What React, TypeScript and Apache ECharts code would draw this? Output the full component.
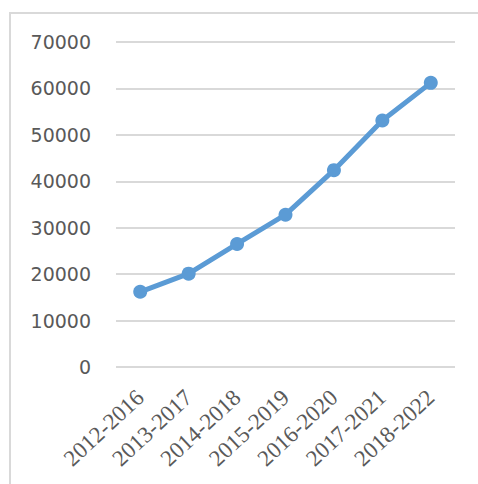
import React, { useEffect, useRef } from "react";
import * as echarts from "echarts";

const categories = ["2012-2016", "2013-2017", "2014-2018", "2015-2019", "2016-2020", "2017-2021", "2018-2022"];
const values = [16200, 20100, 26500, 32800, 42400, 53100, 61200];
const yMin = 0;
const yMax = 70000;
const yInterval = 10000;

export default function App() {
  const ref = useRef<HTMLDivElement>(null);
  useEffect(() => {
    if (!ref.current) return;
    const chart = echarts.init(ref.current, null, { renderer: "svg" });
    chart.setOption({
      animation: false,
      backgroundColor: "#ffffff",
      graphic: [
        {
          type: "rect",
          shape: { x: 10, y: 13, width: 480, height: 490 },
          style: { fill: "none", stroke: "#D9D9D9", lineWidth: 2 },
          silent: true,
        },
      ],
      grid: { left: 116, right: 23, top: 42, bottom: 117, containLabel: false },
      xAxis: {
        type: "category",
        data: categories,
        boundaryGap: true,
        axisLine: { show: false },
        axisTick: { show: false },
        axisLabel: {
          rotate: 43,
          margin: 27,
          fontFamily: "Liberation Serif",
          fontSize: 23,
          color: "#595959",
          interval: 0,
        },
      },
      yAxis: {
        type: "value",
        min: yMin,
        max: yMax,
        interval: yInterval,
        axisLine: { show: false },
        axisTick: { show: false },
        splitLine: { lineStyle: { color: "#D9D9D9", width: 2 } },
        axisLabel: {
          margin: 25,
          fontFamily: "DejaVu Sans",
          fontSize: 19,
          color: "#595959",
          formatter: (v: number) => String(v),
        },
      },
      series: [
        {
          type: "line",
          data: values,
          symbol: "circle",
          symbolSize: 14,
          lineStyle: { color: "#5B9BD5", width: 5 },
          itemStyle: { color: "#5B9BD5" },
        },
      ],
    });
    return () => chart.dispose();
  }, []);
  return <div ref={ref} style={{ position: "fixed", left: 0, top: 0, width: 478, height: 484 }} />;
}
